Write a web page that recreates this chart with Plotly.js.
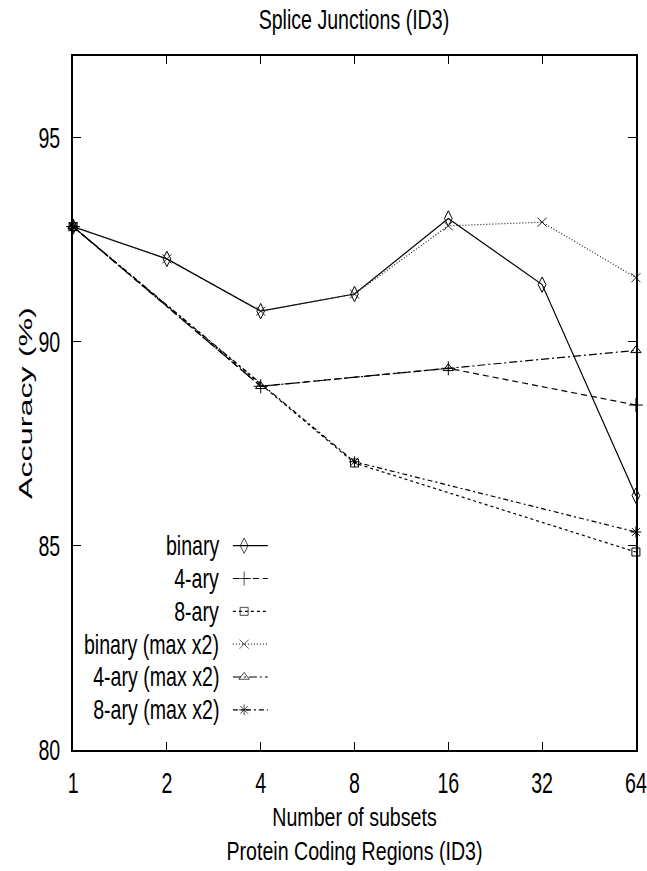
<!DOCTYPE html>
<html>
<head>
<meta charset="utf-8">
<script src="https://cdn.plot.ly/plotly-3.0.1.min.js"></script>
<style>
  html, body { margin: 0; padding: 0; background: #fff; }
  #chart { width: 647px; height: 871px; }
</style>
</head>
<body>
<div id="chart"></div>
<script>
// ---- data ----
const subsets = [1, 2, 4, 8, 16, 32, 64];
const tickLabels = ["1", "2", "4", "8", "16", "32", "64"];
const yTicks = [80, 85, 90, 95];

const binaryX = [1, 2, 4, 8, 16, 32, 64];
const binaryY = [92.82, 92.03, 90.75, 91.17, 93.02, 91.40, 86.23];

const ary4X = [1, 4, 16, 64];
const ary4Y = [92.82, 88.91, 89.35, 88.45];

const ary8X = [1, 8, 64];
const ary8Y = [92.82, 87.03, 84.85];

const binaryMaxX = [1, 2, 4, 8, 16, 32, 64];
const binaryMaxY = [92.82, 92.03, 90.75, 91.17, 92.84, 92.93, 91.57];

const ary4MaxX = [1, 4, 16, 64];
const ary4MaxY = [92.82, 88.91, 89.35, 89.79];

const ary8MaxX = [1, 8, 64];
const ary8MaxY = [92.82, 87.06, 85.34];

const seriesNames = ["binary", "4-ary", "8-ary", "binary (max x2)", "4-ary (max x2)", "8-ary (max x2)"];

// ---- styles ----
const FONT = "Liberation Sans, Arial, Helvetica, sans-serif";
const NARROW = 19.6; // effective horizontal em (px) of the condensed reference font
const styles = [
  { dash: "solid",            symbol: "diamond-tall-open", size: 11, color: "#000", width: 1.2 },
  { dash: "6px,4px",          symbol: "cross-thin-open",   size: 10, color: "#000", width: 1.2 },
  { dash: "3px,3px",          symbol: "square-open",       size: 8,  color: "#000", width: 1.2 },
  { dash: "1px,2px",          symbol: "x-thin-open",       size: 9,  color: "#222", width: 1.2 },
  { dash: "8px,3px,2px,3px",  symbol: "triangle-up-open",  size: 9,  color: "#000", width: 1.2 },
  { dash: "5px,3px,2px,3px",  symbol: "asterisk-open",     size: 9,  color: "#000", width: 1.2 }
];
const xs = [binaryX, ary4X, ary8X, binaryMaxX, ary4MaxX, ary8MaxX];
const ys = [binaryY, ary4Y, ary8Y, binaryMaxY, ary4MaxY, ary8MaxY];

const traces = [];
for (let i = 0; i < seriesNames.length; i++) {
  const s = styles[i];
  traces.push({
    type: "scatter",
    mode: "lines+markers",
    name: seriesNames[i],
    x: xs[i],
    y: ys[i],
    line: { color: s.color, width: s.width, dash: s.dash },
    marker: { symbol: s.symbol, size: s.size, color: s.color, line: { color: s.color, width: 1 } },
    showlegend: false,
    cliponaxis: false
  });
}

// ---- gnuplot-style key (text left, sample right), drawn on a hidden overlay axis ----
const keyTextX = 0.262, keyLineX0 = 0.284, keyMarkX = 0.304, keyLineX1 = 0.346;
const keyTop = 0.2944, keyStep = 0.0473;
const annotations = [];
for (let i = 0; i < seriesNames.length; i++) {
  const s = styles[i];
  const yk = keyTop - i * keyStep;
  traces.push({
    type: "scatter",
    mode: "lines+markers",
    x: [keyLineX0, keyMarkX, keyLineX1],
    y: [yk, yk, yk],
    xaxis: "x2", yaxis: "y2",
    line: { color: s.color, width: s.width, dash: s.dash },
    marker: { symbol: s.symbol, size: [0, s.size, 0], color: s.color, line: { color: s.color, width: 1 } },
    showlegend: false,
    hoverinfo: "skip"
  });
  annotations.push({
    xref: "paper", yref: "paper",
    x: keyTextX, y: yk,
    xanchor: "right", yanchor: "middle", align: "right",
    text: seriesNames[i],
    showarrow: false,
    font: { family: FONT, size: 28, color: "#000" }
  });
}
// y-axis title (rotated), placed like the reference
annotations.push({
  xref: "paper", yref: "paper",
  x: -0.086, y: 0.5,
  xanchor: "center", yanchor: "middle",
  textangle: -90,
  text: "Accuracy (%)",
  showarrow: false,
  font: { family: FONT, size: 19, color: "#000" }
});

const layout = {
  width: 647,
  height: 871,
  paper_bgcolor: "#fff",
  plot_bgcolor: "#fff",
  margin: { l: 73, r: 11, t: 56, b: 121 },
  showlegend: false,
  font: { family: FONT, size: 28, color: "#000" },
  title: {
    text: "Splice Junctions (ID3)",
    font: { family: FONT, size: 28, color: "#000" },
    x: 0.547, xanchor: "center",
    y: 0.978, yanchor: "middle"
  },
  xaxis: {
    type: "log",
    range: [-0.0003, Math.log10(64) + 0.0003],
    tickvals: subsets,
    ticktext: tickLabels,
    ticks: "inside",
    ticklen: 8,
    tickwidth: 1,
    tickcolor: "#000",
    showline: true,
    linecolor: "#000",
    linewidth: 2,
    mirror: "ticks",
    showgrid: false,
    zeroline: false,
    ticklabelstandoff: 6,
    ticklabeloverflow: "allow",
    tickfont: { family: FONT, size: 29, color: "#000" },
    title: {
      text: "Number of subsets<br>Protein Coding Regions (ID3)",
      font: { family: FONT, size: 26, color: "#000" },
      standoff: 10
    }
  },
  yaxis: {
    range: [80, 97],
    tickvals: yTicks,
    ticktext: yTicks.map(String),
    ticks: "inside",
    ticklen: 8,
    tickwidth: 1,
    tickcolor: "#000",
    showline: true,
    linecolor: "#000",
    linewidth: 2,
    mirror: "ticks",
    showgrid: false,
    zeroline: false,
    ticklabelstandoff: 5,
    ticklabeloverflow: "allow",
    tickfont: { family: FONT, size: 29, color: "#000" }
  },
  xaxis2: { domain: [0, 1], range: [0, 1], visible: false, overlaying: "x", anchor: "y2", fixedrange: true },
  yaxis2: { domain: [0, 1], range: [0, 1], visible: false, overlaying: "y", anchor: "x2", fixedrange: true },
  annotations: annotations
};

// Re-shape every text along its own baseline about its anchor point, to mimic the reference lettering
// (condensed horizontally; the rotated axis label is drawn elongated).
function reshapeText(gd) {
  gd.querySelectorAll("svg text").forEach(function (t) {
    if (t.getAttribute("data-shaped")) return;
    const fs = parseFloat(t.style.fontSize || window.getComputedStyle(t).fontSize) || 28;
    let sx = Math.min(1, NARROW / fs);
    if (t.textContent === "Accuracy (%)") sx = 1.7;
    const x = parseFloat(t.getAttribute("x")) || 0;
    const y = parseFloat(t.getAttribute("y")) || 0;
    const prev = t.getAttribute("transform") || "";
    t.setAttribute("transform", (prev + " translate(" + x + "," + y + ") scale(" + sx.toFixed(4) + ",1) translate(" + (-x) + "," + (-y) + ")").trim());
    t.setAttribute("data-shaped", "1");
  });
}

Plotly.newPlot("chart", traces, layout, { displayModeBar: false, staticPlot: true }).then(function (gd) {
  reshapeText(gd);
});
</script>
</body>
</html>
